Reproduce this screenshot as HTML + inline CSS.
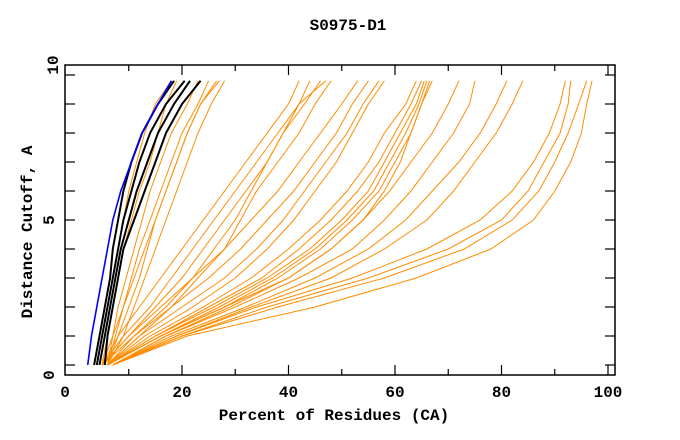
<!DOCTYPE html>
<html><head><meta charset="utf-8"><style>
body{margin:0;background:#fff;}
svg{display:block;}
text{font-family:"Liberation Mono",monospace;font-weight:bold;font-size:16px;fill:#000;}
</style></head><body>
<svg id="chart" width="680" height="440">
<text x="348" y="30" text-anchor="middle">S0975-D1</text>
<text x="334" y="420" text-anchor="middle">Percent of Residues (CA)</text>
<text transform="translate(32,232) rotate(-90)" text-anchor="middle">Distance Cutoff, A</text>
<g id="grid"></g>
<g id="lines"></g>
<rect x="65" y="65" width="550" height="310" fill="none" stroke="#000" stroke-width="1.5"/>
</svg>
<script>
const yLevels=[0,1,2,3,4,5,6,7,8,9,9.8];
const xTicks=[10,20,30,40,50,60,70,80,90,100];
const xTickLabels=["20","40","60","80","100"];
const yTicks=[0,1,2,3,4,5,6,7,8,9,10];
const blackSeries=[
[3.5,4.5,5.5,6.5,7,8,9,10.5,12.5,15.5,18.5],
[4,5,6,7,8,9,10.5,12,14,17,20.5],
[4.5,5.5,6.5,7.5,8.5,10,11.5,13.5,15.5,18.5,21.5],
[5.5,6,7,8,9,11,13,15,17,20,23.5]];
const blueSeries=[[2.3,3,4,5,6,7,8.5,10.5,12.5,15.5,18]];
const orangeSeries=[
[4,5,6,7,8,9,10,11.5,13,15,18],
[5,6,7,8,9,10.5,12,14,15.5,17,19],
[6,7,8,9.5,11,12.5,14,16,18,21,23],
[6,7.5,9,10.5,12,14,16,18,20,23,25],
[6,8,10,12,13.5,15,17,19,21,23.5,26.5],
[6,9,11,13,15,17,19,21,23,25.5,28],
[5,7,9,11,13,15,17,19,21,23.5,27],
[5,8,12,16,20,24,28,32,36,40,42],
[5,9,14,18,22,26,30,34,38,42,44],
[5,10,15,20,24,28,32,36,39,43,46],
[6,11,17,22,26,30,33,36,39,42,47],
[6,12,18,23,28,31,34,38,42,45,48],
[5,10,16,22,28,33,38,42,46,50,53],
[5,11,18,25,31,36,41,45,49,52,55],
[6,12,20,28,34,39,43,47,51,54,57],
[6,13,22,30,36,41,45,49,52,55,58],
[6,14,24,33,40,46,51,55,58,62,64],
[6,15,25,35,42,48,53,57,60,63,65],
[6,15,26,36,44,50,55,58,61,64,65.5],
[6,16,27,37,45,51,56,59,62,64.5,66],
[6,16,28,38,46,52,57,60,63,65,66.5],
[7,17,29,40,48,54,58,61,63,65,67],
[6,16,28,40,48,54,59,63,67,70,72],
[7,17,30,42,52,58,63,67,71,74,75],
[7,18,32,45,55,62,67,72,76,79,81],
[7,19,33,48,58,66,71,75,79,82,84],
[7,19,34,52,66,76,82,86,89,91,92],
[7,20,36,55,70,80,85,88,91,92.5,93],
[7,20,38,58,73,82,87,90,92.5,94.5,96],
[7,21,45,64,78,86,90,93,95,96,97]];
const NS="http://www.w3.org/2000/svg";
function xs(v){return 75.5+5.325*v;}
function ys(v){return 365-29*v;}
const grid=document.getElementById('grid');
const lines=document.getElementById('lines');
function mk(tag,attrs,parent){const e=document.createElementNS(NS,tag);for(const k in attrs)e.setAttribute(k,attrs[k]);parent.appendChild(e);return e;}
xTicks.forEach((t,i)=>{
  const len=(t%20===0)?10:6;
  const b=mk('line',{x1:xs(t),x2:xs(t),y1:375,y2:375-len,stroke:'#000','stroke-width':1.2},grid);
  
  
  const tp=mk('line',{x1:xs(t),x2:xs(t),y1:65,y2:65+len,stroke:'#000','stroke-width':1.2},grid);
  
  
});
xTickLabels.forEach((l,i)=>{
  const t=mk('text',{x:xs(+l),y:397,'text-anchor':'middle'},grid);t.textContent=l;
  
  
});
const z=mk('text',{x:65,y:397,'text-anchor':'middle'},grid);z.textContent='0';


yTicks.forEach(t=>{
  const l=mk('line',{x1:65,x2:75,y1:ys(t),y2:ys(t),stroke:'#000','stroke-width':1.2},grid);
  
  
  const r=mk('line',{x1:605,x2:615,y1:ys(t),y2:ys(t),stroke:'#000','stroke-width':1.2},grid);
  
  
});
[["0",380],["5",225],["10",70]].forEach(a=>{
  const t=mk('text',{x:a[0]==="10"?53:49,y:a[1],'text-anchor':'middle',transform:`rotate(-90 ${a[0]==="10"?53:49} ${a[1]-5})`},grid);t.textContent=a[0];
  
  
});
function draw(series,color,w,name){
  series.forEach(s=>{
    const d=s.map((v,i)=>(i?'L':'M')+xs(v).toFixed(1)+','+ys(yLevels[i]).toFixed(1)).join(' ');
    const p=mk('path',{d:d,fill:'none',stroke:color,'stroke-width':w},lines);
    
    
  });
}
draw(orangeSeries,'#ff8c00',1,'orange-model-line');
draw(blackSeries,'#000',2,'black-model-line');
draw(blueSeries,'#0000ff',1.6,'blue-model-line');
</script>
</body></html>
